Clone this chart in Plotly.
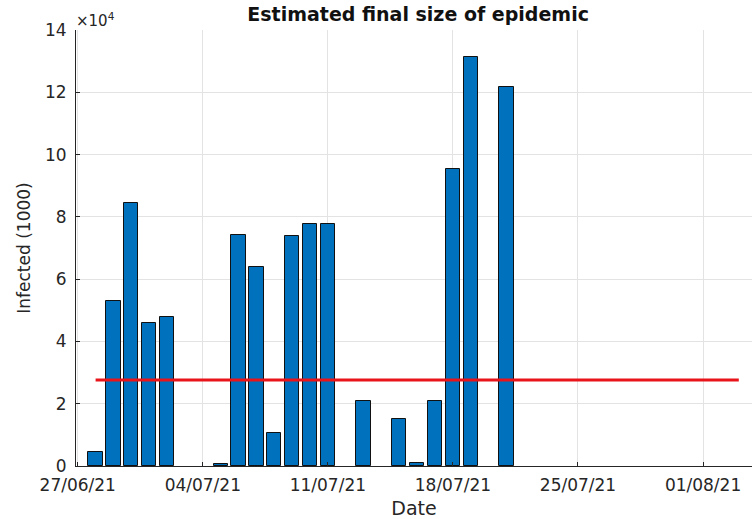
import plotly.graph_objects as go

# Data
dates = ["2021-06-28", "2021-06-29", "2021-06-30", "2021-07-01", "2021-07-02",
         "2021-07-05", "2021-07-06", "2021-07-07", "2021-07-08", "2021-07-09",
         "2021-07-10", "2021-07-11", "2021-07-13", "2021-07-15", "2021-07-16",
         "2021-07-17", "2021-07-18", "2021-07-19", "2021-07-21"]
infected = [4600, 53000, 84500, 46000, 47900,
            600, 74200, 64000, 10500, 73800,
            77700, 77700, 20900, 15200, 1000,
            21000, 95300, 131400, 121600]

line_dates = ["2021-06-28", "2021-08-03"]
line_value = [27600, 27600]

x_ticks = ["2021-06-27", "2021-07-04", "2021-07-11", "2021-07-18", "2021-07-25", "2021-08-01"]
y_ticks = [0, 20000, 40000, 60000, 80000, 100000, 120000, 140000]
y_ticktext = ["0", "2", "4", "6", "8", "10", "12", "14"]

FONT = "DejaVu Sans"
TXT = "#262626"
DAY_MS = 86400000

fig = go.Figure()
fig.add_trace(go.Bar(
    x=dates, y=infected,
    width=0.8 * DAY_MS,
    marker=dict(color="#0072BD", line=dict(color="#111111", width=1)),
    showlegend=False,
))
fig.add_trace(go.Scatter(
    x=line_dates, y=line_value, mode="lines",
    line=dict(color="#E8141A", width=3),
    showlegend=False,
))

fig.update_layout(
    width=752, height=519,
    margin=dict(l=76, r=0, t=30, b=53),
    paper_bgcolor="white", plot_bgcolor="white",
    font=dict(family=FONT, color=TXT, size=16),
    title=dict(text="<b>Estimated final size of epidemic</b>",
               x=0.556, xanchor="center", y=0.972, yanchor="middle",
               font=dict(family=FONT, size=19, color="#111111")),
    bargap=0,
)
fig.update_xaxes(
    type="date", automargin=False,
    range=["2021-06-26 21:40", "2021-08-03 17:45"],
    tickvals=x_ticks, tickformat="%d/%m/%y",
    ticks="inside", ticklen=4, tickcolor=TXT,
    showgrid=True, gridcolor="#e3e3e3", gridwidth=1,
    showline=True, linecolor=TXT, linewidth=1,
    tickfont=dict(size=17, color=TXT),
    ticklabelstandoff=4,
    title=dict(text="Date", font=dict(size=19, color=TXT), standoff=9),
)
fig.update_yaxes(
    automargin=False,
    range=[0, 140000],
    tickvals=y_ticks, ticktext=y_ticktext,
    ticks="inside", ticklen=4, tickcolor=TXT,
    showgrid=True, gridcolor="#e3e3e3", gridwidth=1,
    zeroline=False,
    showline=True, linecolor=TXT, linewidth=1,
    tickfont=dict(size=17, color=TXT),
    ticklabelstandoff=5,
    title=dict(text="Infected (1000)", font=dict(size=17, color=TXT), standoff=10),
)
fig.add_annotation(
    text="×10<sup>4</sup>", xref="paper", yref="paper", x=0, y=1,
    xanchor="left", yanchor="bottom", showarrow=False,
    font=dict(family=FONT, size=15, color=TXT), xshift=-2, yshift=-2,
)

fig.write_html("out.html", config={"displayModeBar": False},
               post_script="document.body.style.margin='0';")
